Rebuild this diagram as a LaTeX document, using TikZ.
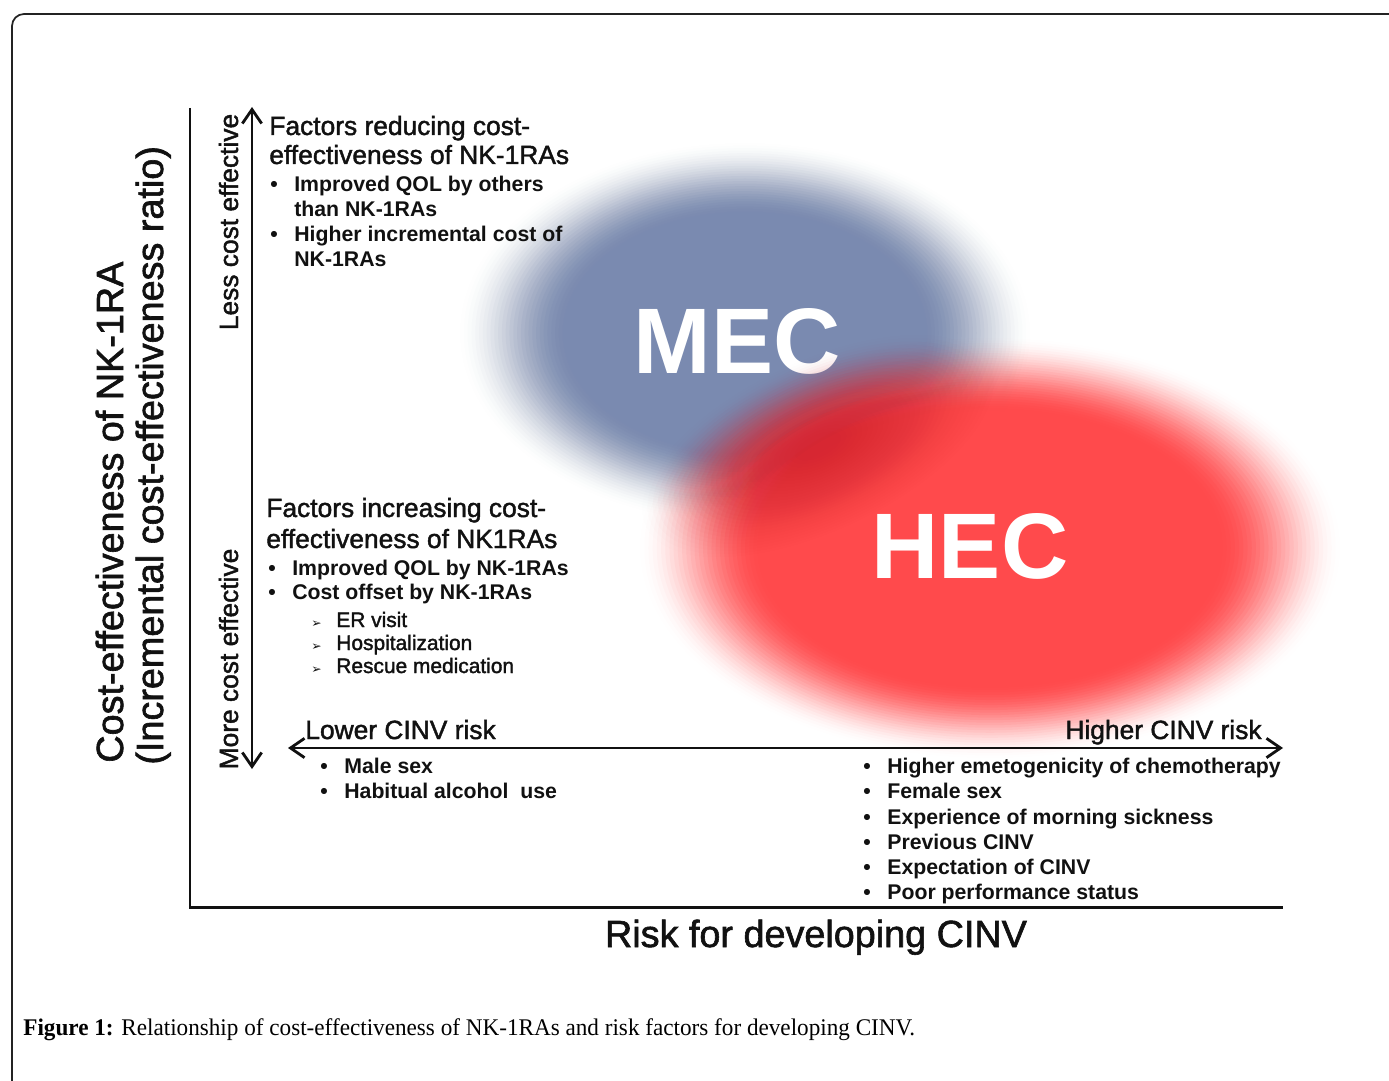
\documentclass[tikz,border=0pt]{standalone}
\usepackage{fontspec}
\usepackage{graphicx}
\setmainfont{Liberation Sans}
\newfontfamily\medsans[FakeBold=1.6]{Liberation Sans}
\newfontfamily\capfont{Liberation Serif}
\newfontfamily\symfont{DejaVu Sans}
\usetikzlibrary{arrows.meta}

\definecolor{mecblue}{RGB}{122,138,176}
\definecolor{hecred}{RGB}{255,74,76}
\definecolor{deepred}{RGB}{212,36,50}
\definecolor{framegray}{RGB}{35,35,35}
\definecolor{ink}{RGB}{17,17,17}

% A soft-edged ellipse built from stacked translucent layers:
% #1 colour, #2,#3 centre, #4,#5 outer radii (cm), #6 solid-core fraction,
% #7 rotation, #8 peak opacity. The opacity rises along a smoothstep profile.
\newcommand{\softblob}[8]{%
  \foreach \i in {1,...,30}{%
    \pgfmathsetmacro{\ta}{(\i-1)/30}%
    \pgfmathsetmacro{\tb}{\i/30}%
    \pgfmathsetmacro{\Ta}{#8*(3*\ta*\ta-2*\ta*\ta*\ta)}%
    \pgfmathsetmacro{\Tb}{#8*(3*\tb*\tb-2*\tb*\tb*\tb)}%
    \pgfmathsetmacro{\al}{1-(1-\Tb)/(1-\Ta)}%
    \pgfmathsetmacro{\fr}{1-(1-#6)*(\i-1)/30}%
    \pgfmathsetmacro{\rx}{\fr*#4}%
    \pgfmathsetmacro{\ry}{\fr*#5}%
    \fill[#1, opacity=\al, rotate around={#7:(#2,#3)}]
      (#2,#3) ellipse [x radius=\rx cm, y radius=\ry cm];
  }}

\newcommand{\bul}{\makebox[0.48cm][l]{\textbullet}}
\newcommand{\subarrow}{\makebox[0.5cm][l]{\symfont\fontsize{7}{8}\selectfont ➢}}

\tikzset{
  head/.style={anchor=base west, inner sep=0pt, text=ink, font=\medsans\fontsize{15}{18}\selectfont},
  item/.style={anchor=base west, inner sep=0pt, text=ink, font=\fontsize{12.1}{14}\selectfont\bfseries},
  subitem/.style={anchor=base west, inner sep=0pt, text=ink, font=\medsans\fontsize{11.9}{14}\selectfont},
  axistitle/.style={inner sep=0pt, text=ink, font=\medsans\fontsize{21.5}{25}\selectfont},
  sidelabel/.style={rotate=90, anchor=base, inner sep=0pt, text=ink, font=\medsans\fontsize{15}{18}\selectfont},
  axisline/.style={line width=1.7pt, ink},
  dblarrow/.style={line width=1.6pt, ink,
    {Straight Barb[length=8pt,width=11pt]}-{Straight Barb[length=8pt,width=11pt]}},
  blobtext/.style={text=white, font=\fontsize{53}{60}\selectfont\bfseries, inner sep=0pt, anchor=base},
}

\begin{document}
\begin{tikzpicture}[x=0.02cm, y=-0.02cm]
  \useasboundingbox (0,0) rectangle (1389,1081);
  \fill[white] (0,0) rectangle (1389,1081);

  % outer frame, rounded at the top-left corner
  \draw[framegray, line width=1pt] (1400,14) -- (24,14)
     arc[start angle=90, end angle=180, radius=0.24cm] -- (12,1100);

  % soft clouds
  \softblob{mecblue}{745}{333}{5.7}{3.8}{0.6}{0}{1}
  \node[blobtext] (mec) at (737,373) {MEC};
  \softblob{hecred}{990}{548}{7.0}{4.2}{0.64}{0}{1}
  \softblob{deepred}{818}{446}{3.8}{1.7}{0.1}{25}{0.7}
  \node[blobtext] (hec) at (970,578) {HEC};

  % axes
  \coordinate (O) at (190,907);
  \coordinate (ytop) at (190,108);
  \coordinate (xend) at (1283,907);
  \draw[axisline] (ytop) -- (O) -- (xend);

  % double arrows
  \coordinate (vtop) at (252,107);
  \coordinate (vbot) at (252,769);
  \draw[dblarrow] (vbot) -- (vtop);
  \coordinate (hleft) at (288,748);
  \coordinate (hright) at (1283,748);
  \draw[dblarrow] (hleft) -- (hright);

  % axis titles
  \node[axistitle, rotate=90, anchor=base west] (ytitleA) at (123,763) {Cost-effectiveness of NK-1RA};
  \node[axistitle, rotate=90, anchor=base west] (ytitleB) at (163,765) {(Incremental cost-effectiveness ratio)};
  \node[axistitle, anchor=base] (xtitle) at (816,947) {Risk for developing CINV};

  \node[sidelabel] (less) at (238,222) {Less cost effective};
  \node[sidelabel] (more) at (238,659) {More cost effective};

  % factors reducing cost-effectiveness
  \node[head] (red1) at (269,135) {Factors reducing cost-};
  \node[head] (red2) at (269,164) {effectiveness of NK-1RAs};
  \node[item] (redA) at (270,192) {\bul Improved QOL by others};
  \node[item] (redAb) at (294,216) {than NK-1RAs};
  \node[item] (redB) at (270,241) {\bul Higher incremental cost of};
  \node[item] (redBb) at (294,266) {NK-1RAs};

  % factors increasing cost-effectiveness
  \node[head] (inc1) at (266,517) {Factors increasing cost-};
  \node[head] (inc2) at (266,548) {effectiveness of NK1RAs};
  \node[item] (incA) at (268,575) {\bul Improved QOL by NK-1RAs};
  \node[item] (incB) at (268,599) {\bul Cost offset by NK-1RAs};
  \node[subitem] (incB1) at (311,627) {\subarrow ER visit};
  \node[subitem] (incB2) at (311,650) {\subarrow Hospitalization};
  \node[subitem] (incB3) at (311,673) {\subarrow Rescue medication};

  % risk ends of the horizontal axis
  \node[head] (lower) at (305,739) {Lower CINV risk};
  \node[head, anchor=base east] (higher) at (1262,739) {Higher CINV risk};

  \node[item] (lowA) at (320,773) {\bul Male sex};
  \node[item] (lowB) at (320,798) {\bul Habitual alcohol\ \ use};

  \node[item] (hiA) at (863,773) {\bul Higher emetogenicity of chemotherapy};
  \node[item] (hiB) at (863,798) {\bul Female sex};
  \node[item] (hiC) at (863,824) {\bul Experience of morning sickness};
  \node[item] (hiD) at (863,849) {\bul Previous CINV};
  \node[item] (hiE) at (863,874) {\bul Expectation of CINV};
  \node[item] (hiF) at (863,899) {\bul Poor performance status};

  % caption
  \node[anchor=base west, inner sep=0pt, text=black, font=\capfont\fontsize{13.6}{16}\selectfont] (caption) at (23,1035)
    {\resizebox{17.84cm}{\height}{\textbf{Figure 1:} Relationship of cost-effectiveness of NK-1RAs and risk factors for developing CINV.}};
\end{tikzpicture}
\end{document}
